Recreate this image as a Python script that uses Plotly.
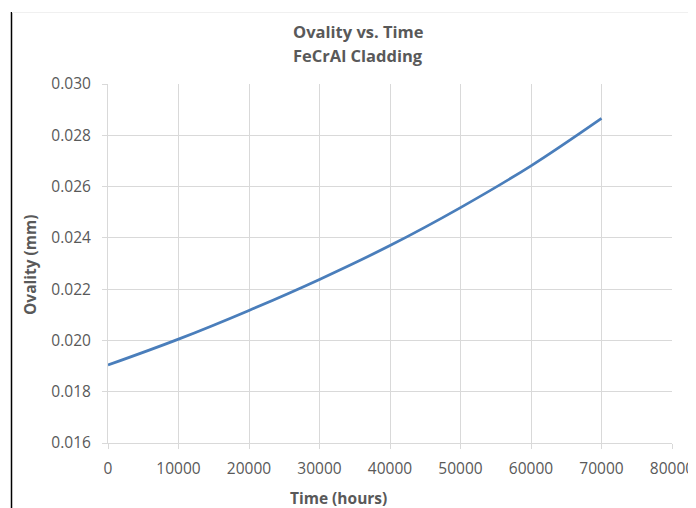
import plotly.graph_objects as go

time_hours = [0, 10000, 20000, 30000, 40000, 50000, 60000, 70000]
ovality_mm = [0.01904, 0.02005, 0.02117, 0.02238, 0.02370, 0.02518, 0.02681, 0.02866]

# page has an 8px body margin, so the figure is drawn 8px smaller and offset
OFF = 8
W, H = 696 - OFF, 508 - OFF
ml, mr, mt, mb = 108 - OFF, 24, 84 - OFF, 65
pw = W - ml - mr
ph = H - mt - mb

font = "Open Sans, Liberation Sans, sans-serif"
gray = "#595959"

fig = go.Figure()
fig.add_trace(go.Scatter(x=time_hours, y=ovality_mm, mode="lines",
                         line=dict(color="#4A7EBB", width=2.75, shape="spline", smoothing=1.0),
                         showlegend=False, hoverinfo="x+y"))

fig.update_layout(
    width=W, height=H,
    margin=dict(l=ml, r=mr, t=mt, b=mb, autoexpand=False),
    paper_bgcolor="white", plot_bgcolor="white",
    font=dict(family=font, color=gray, size=15),
    xaxis=dict(range=[0, 80000], dtick=10000, tick0=0, showgrid=True, gridcolor="#d9d9d9",
               gridwidth=1, showline=True, linecolor="#d9d9d9", ticks="outside",
               ticklen=5, tickcolor="#d9d9d9", zeroline=False, tickformat="d",
               automargin=False, ticklabelstandoff=6,
               tickfont=dict(size=15.5, color=gray, family=font)),
    yaxis=dict(range=[0.016, 0.030], dtick=0.002, tick0=0.016, showgrid=True,
               gridcolor="#d9d9d9", gridwidth=1, showline=True, linecolor="#d9d9d9",
               ticks="outside", ticklen=5, tickcolor="#d9d9d9", zeroline=False,
               automargin=False, ticklabelstandoff=8,
               tickformat=".3f", tickfont=dict(size=15.5, color=gray, family=font)),
)

def px_x(p):
    return (p - OFF - ml) / pw

def px_y(p):
    return (H - mb - (p - OFF)) / ph

fig.add_annotation(text="<b>Ovality vs. Time</b>", x=px_x(358), y=px_y(32), xref="paper", yref="paper",
                   showarrow=False, font=dict(size=16.5, color=gray, family=font), xanchor="center", yanchor="middle")
fig.add_annotation(text="<b>FeCrAl Cladding</b>", x=px_x(358), y=px_y(55), xref="paper", yref="paper",
                   showarrow=False, font=dict(size=16.5, color=gray, family=font), xanchor="center", yanchor="middle")
fig.add_annotation(text="<b>Time (hours)</b>", x=px_x(338), y=px_y(498), xref="paper", yref="paper",
                   showarrow=False, font=dict(size=15.5, color=gray, family=font), xanchor="center", yanchor="middle")
fig.add_annotation(text="<b>Ovality (mm)</b>", x=px_x(30), y=px_y(265), xref="paper", yref="paper",
                   showarrow=False, textangle=-90, font=dict(size=15.5, color=gray, family=font),
                   xanchor="center", yanchor="middle")

fig.add_shape(type="line", xref="paper", yref="paper", x0=px_x(11.5), x1=px_x(11.5),
              y0=px_y(12), y1=px_y(508), line=dict(color="black", width=1.5))
fig.add_shape(type="line", xref="paper", yref="paper", x0=px_x(12), x1=px_x(696),
              y0=px_y(12.5), y1=px_y(12.5), line=dict(color="#f0f0f0", width=1))

fig.write_html("out.html")
